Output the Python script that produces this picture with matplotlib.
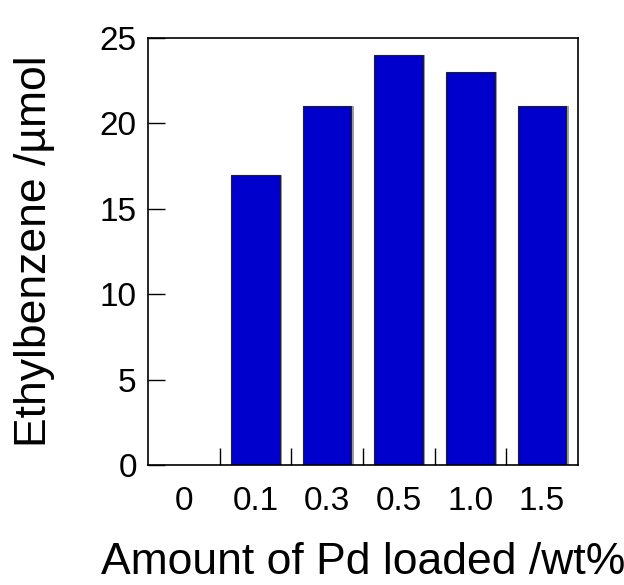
import numpy as np
import matplotlib.pyplot as plt

# Data
pd_loading = ['0', '0.1', '0.3', '0.5', '1.0', '1.5']
ethylbenzene = [0, 17, 21, 24, 23, 21]

plt.rcParams['font.family'] = ['Liberation Sans', 'DejaVu Sans']

fig = plt.figure(figsize=(6.24, 5.85), dpi=100)
ax = fig.add_axes([0.237, 0.205, 0.689, 0.730])

x = np.arange(len(pd_loading))
width = 0.68
# gray shadow on the right side of the bars
ax.bar(x + 0.03, ethylbenzene, width=width, color='#a0a0a0', zorder=1)
ax.bar(x, ethylbenzene, width=width, color='#0000cc', edgecolor='#202020',
       linewidth=0.8, zorder=2)

ax.set_xlim(-0.5, len(pd_loading) - 0.5)
ax.set_ylim(0, 25)
ax.set_yticks(np.arange(0, 26, 5))

# category labels centred, ticks at category boundaries
ax.set_xticks(x)
ax.set_xticklabels(pd_loading)
ax.tick_params(axis='x', which='major', length=0, pad=15, labelsize=24)
ax.set_xticks(x[:-1] + 0.5, minor=True)
ax.tick_params(axis='x', which='minor', direction='in', length=12, width=1)
ax.tick_params(axis='y', direction='in', length=12, width=1, labelsize=24, pad=8)

for s in ax.spines.values():
    s.set_linewidth(1.2)

ax.set_xlabel('Amount of Pd loaded /wt%', fontsize=32, labelpad=18)
ax.set_ylabel('Ethylbenzene /µmol', fontsize=32, labelpad=32)

fig.savefig('out.png', dpi=100)
